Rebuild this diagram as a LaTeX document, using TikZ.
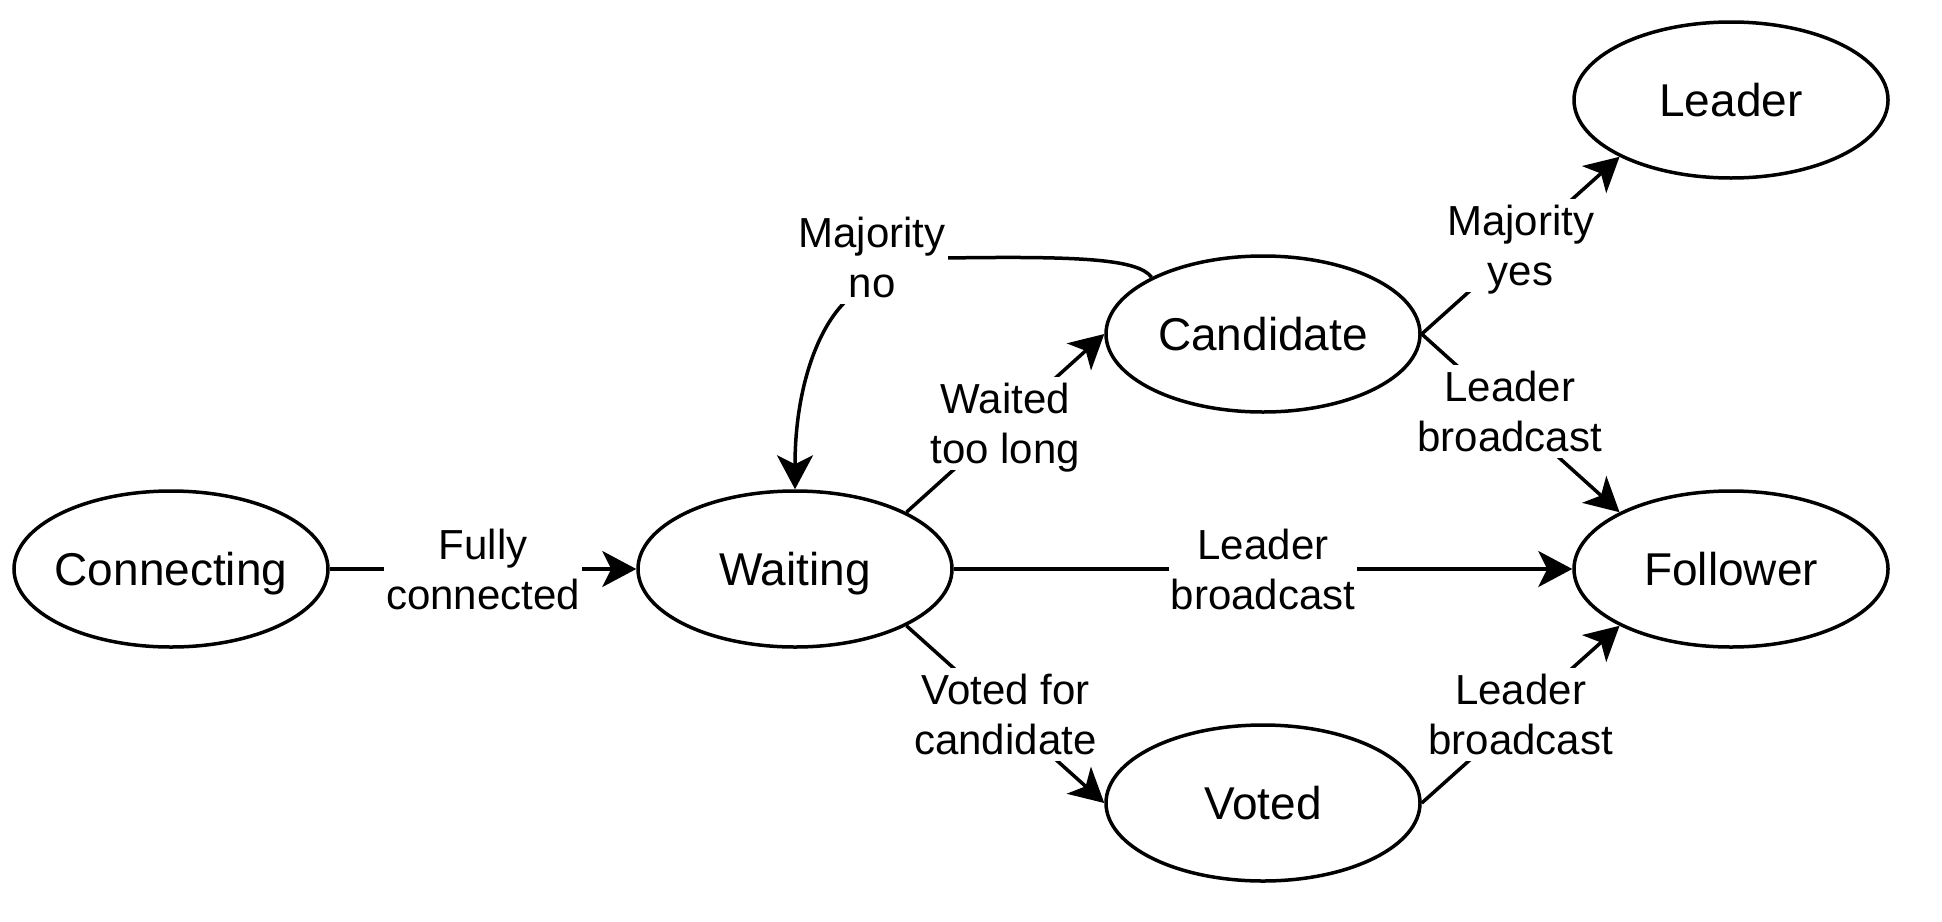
\documentclass[tikz,border=0pt]{standalone}
\usepackage{fontspec}
\setmainfont{Liberation Sans}
\usetikzlibrary{arrows.meta,shapes.geometric}
\begin{document}
\begin{tikzpicture}[x=1pt,y=-1pt,
  state/.style={draw, ellipse, line width=3.5pt, minimum width=314pt, minimum height=156pt,
    inner sep=0pt, font=\fontsize{46}{55}\selectfont, text height=33pt, text depth=0pt},
  elabel/.style={fill=white, align=center, inner xsep=2pt, inner ysep=6pt,
    font=\fontsize{42}{50}\selectfont, text height=81pt, text depth=0pt},
  conn/.style={line width=3.5pt, -{Stealth[length=34pt,width=36pt,inset=9pt]}}]
\useasboundingbox (0,0) rectangle (1942,921);
\node[state] (Connecting) at (171,569) {\makebox[0pt]{Connecting}};
\node[state] (Waiting) at (795,569) {\makebox[0pt]{Waiting}};
\node[state] (Candidate) at (1263,334) {\makebox[0pt]{Candidate}};
\node[state] (Leader) at (1731,100) {\makebox[0pt]{Leader}};
\node[state] (Follower) at (1731,569) {\makebox[0pt]{Follower}};
\node[state] (Voted) at (1263,803) {\makebox[0pt]{Voted}};

\draw[conn] (Connecting.east) -- node[elabel] {Fully\\connected} (Waiting.west);
\draw[conn] (Waiting.east) -- node[elabel] {Leader\\broadcast} (Follower.west);
\draw[conn] (Waiting.27) -- node[elabel] {Waited\\too long} (Candidate.west);
\draw[conn] (Waiting.333) -- node[elabel] {Voted for\\candidate} (Voted.west);
\draw[conn] (Candidate.east) -- node[elabel] {Majority\\yes} (Leader.207);
\draw[conn] (Candidate.east) -- node[elabel,pos=0.445,yshift=2pt,inner xsep=1pt] {Leader\\broadcast} (Follower.153);
\draw[conn] (Voted.east) -- node[elabel] {Leader\\broadcast} (Follower.207);
\draw[conn] (Candidate.153) .. controls (1138,259) and (1080,256) .. (947,258)
  -- (872,257) node[elabel] (mn) {Majority\\no}
  -- (847,300) .. controls (817,328) and (795,390) .. (Waiting.north);
\end{tikzpicture}
\end{document}
